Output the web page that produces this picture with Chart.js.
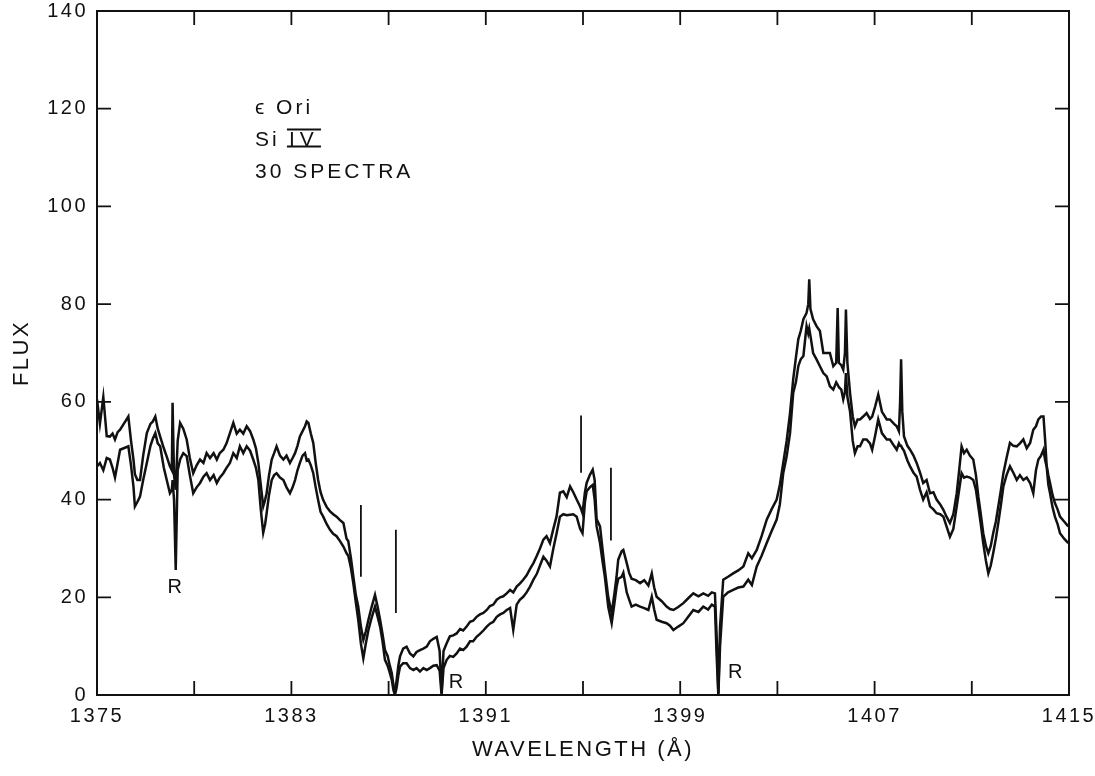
<!DOCTYPE html>
<html>
<head>
<meta charset="utf-8">
<title>eps Ori Si IV spectra</title>
<script src="https://cdn.jsdelivr.net/npm/chart.js@4.4.1/dist/chart.umd.min.js"></script>
<style>
  html, body { margin: 0; padding: 0; background: #fff; }
  #wrap { width: 1095px; height: 776px; }
</style>
</head>
<body>
<div id="wrap"><canvas id="spectrumChart" width="1095" height="776"></canvas></div>
<script>
// Wavelength samples (Angstrom)
const wavelength = [
  1375.00, 1375.12, 1375.26, 1375.40, 1375.53, 1375.64, 1375.74, 1375.85, 1375.95, 1376.10,
  1376.29, 1376.40, 1376.50, 1376.56, 1376.66, 1376.77, 1376.90, 1377.05, 1377.20, 1377.30,
  1377.40, 1377.50, 1377.60, 1377.75, 1377.87, 1378.00, 1378.08, 1378.11, 1378.17, 1378.24,
  1378.32, 1378.42, 1378.55, 1378.69, 1378.82, 1378.96, 1379.10, 1379.24, 1379.38, 1379.51,
  1379.65, 1379.80, 1379.93, 1380.05, 1380.20, 1380.33, 1380.47, 1380.61, 1380.75, 1380.88,
  1381.02, 1381.16, 1381.30, 1381.43, 1381.54, 1381.64, 1381.74, 1381.84, 1381.92, 1381.98,
  1382.08, 1382.19, 1382.29, 1382.39, 1382.53, 1382.67, 1382.80, 1382.94, 1383.05, 1383.15,
  1383.25, 1383.35, 1383.46, 1383.56, 1383.63, 1383.70, 1383.80, 1383.90, 1384.00, 1384.10,
  1384.20, 1384.31, 1384.45, 1384.59, 1384.72, 1384.86, 1385.00, 1385.14, 1385.27, 1385.34,
  1385.45, 1385.55, 1385.65, 1385.75, 1385.86, 1385.96, 1386.06, 1386.17, 1386.30, 1386.44,
  1386.55, 1386.65, 1386.75, 1386.85, 1386.96, 1387.05, 1387.13, 1387.20, 1387.26, 1387.33,
  1387.40, 1387.47, 1387.60, 1387.74, 1387.88, 1388.02, 1388.15, 1388.29, 1388.43, 1388.57,
  1388.70, 1388.84, 1388.98, 1389.10, 1389.18, 1389.26, 1389.39, 1389.52, 1389.66, 1389.80,
  1389.94, 1390.07, 1390.21, 1390.35, 1390.48, 1390.62, 1390.76, 1390.90, 1391.04, 1391.17,
  1391.31, 1391.45, 1391.59, 1391.72, 1391.86, 1392.00, 1392.13, 1392.27, 1392.40, 1392.54,
  1392.68, 1392.82, 1392.96, 1393.10, 1393.23, 1393.37, 1393.50, 1393.64, 1393.78, 1393.91,
  1394.05, 1394.19, 1394.33, 1394.47, 1394.60, 1394.74, 1394.88, 1394.98, 1395.08, 1395.15,
  1395.28, 1395.40, 1395.48, 1395.56, 1395.70, 1395.80, 1395.90, 1396.04, 1396.18, 1396.30,
  1396.38, 1396.45, 1396.59, 1396.66, 1396.80, 1396.90, 1397.00, 1397.17, 1397.35, 1397.52,
  1397.69, 1397.83, 1397.93, 1398.03, 1398.24, 1398.44, 1398.58, 1398.72, 1398.92, 1399.13,
  1399.33, 1399.54, 1399.75, 1399.95, 1400.15, 1400.30, 1400.43, 1400.50, 1400.57, 1400.64,
  1400.77, 1400.97, 1401.18, 1401.39, 1401.60, 1401.80, 1401.95, 1402.15, 1402.35, 1402.56,
  1402.76, 1402.97, 1403.10, 1403.24, 1403.38, 1403.52, 1403.65, 1403.76, 1403.86, 1403.96,
  1404.07, 1404.20, 1404.27, 1404.31, 1404.36, 1404.47, 1404.61, 1404.75, 1404.89, 1405.03,
  1405.16, 1405.30, 1405.42, 1405.48, 1405.53, 1405.63, 1405.71, 1405.78, 1405.82, 1405.88,
  1405.99, 1406.10, 1406.19, 1406.30, 1406.40, 1406.53, 1406.67, 1406.81, 1406.90, 1407.02,
  1407.15, 1407.30, 1407.50, 1407.63, 1407.80, 1407.91, 1408.00, 1408.05, 1408.09, 1408.14,
  1408.21, 1408.35, 1408.46, 1408.60, 1408.73, 1408.87, 1409.00, 1409.14, 1409.28, 1409.42,
  1409.55, 1409.70, 1409.83, 1409.96, 1410.10, 1410.24, 1410.38, 1410.48, 1410.58, 1410.68,
  1410.79, 1410.92, 1411.06, 1411.17, 1411.27, 1411.37, 1411.47, 1411.58, 1411.68, 1411.78,
  1411.88, 1411.99, 1412.09, 1412.20, 1412.30, 1412.43, 1412.57, 1412.71, 1412.85, 1412.98,
  1413.12, 1413.26, 1413.40, 1413.53, 1413.64, 1413.74, 1413.85, 1413.95, 1414.02, 1414.08,
  1414.15, 1414.22, 1414.32, 1414.42, 1414.53, 1414.63, 1414.80, 1414.97,
];

// Upper spectrum trace
const fluxUpper = [
  60.5, 55.5, 61, 53, 52.9, 53.5, 52.3, 53.8, 54.3, 55.5,
  57, 52, 48.2, 45.2, 44, 44, 49, 53.6, 55.5, 56,
  57, 54.5, 52.9, 50.5, 48.8, 46.8, 46, 59.8, 45, 42,
  52, 55.7, 54.5, 52.3, 48.5, 45.4, 47, 48.2, 47.5, 49.5,
  48.5, 49.5, 48.2, 49.5, 50.2, 51.5, 53.6, 55.7, 53.5, 54.3,
  53.5, 55, 54, 52.3, 50.5, 47.5, 43, 38.6, 40, 41.3,
  45, 48.2, 49.5, 50.9, 49, 48.2, 49, 47.5, 48.5, 49.5,
  51, 52.9, 54, 55, 56, 55.7, 53.5, 51.6, 47.5, 44,
  41.5, 39.9, 38.5, 37.6, 37, 36.5, 35.8, 35.2, 32, 31.5,
  28, 24.2, 20.5, 18.1, 14, 11.3, 13, 15.4, 18, 20.5,
  18, 15.4, 12.5, 9.2, 8, 6, 4.5, 2, 0.5, 3,
  6, 7.9, 9.5, 9.9, 8.5, 7.9, 8.8, 9.2, 9.5, 9.9,
  11, 11.5, 11.9, 9, 0.5, 9, 10.6, 12, 12.2, 12.6,
  13.5, 13.2, 14, 15, 15.2, 16, 16.5, 16.8, 17.4, 18.2,
  18.5, 19.5, 20, 20.2, 20.8, 21.5, 21, 22.2, 22.8, 23.6,
  24.5, 25.8, 27, 28.5, 30, 31.8, 32.5, 31.1, 34, 36.5,
  41.4, 41.7, 40.5, 42.7, 41.5, 40, 38.6, 37.2, 41.5, 43.4,
  45, 46.1, 44, 36, 34.5, 30, 25.6, 20, 16.8, 21,
  24.2, 27.7, 29.4, 29.7, 27, 25, 23.8, 23.5, 22.9, 23.5,
  22.4, 24.9, 22, 20.1, 19.2, 18.1, 17.6, 17.4, 18, 18.8,
  19.8, 20.8, 20.2, 20.8, 20.3, 21, 20.8, 12, 0.3, 14,
  23.6, 24.2, 24.9, 25.5, 26.3, 29, 28, 29.7, 32.5, 35.9,
  38, 40, 43, 47.5, 52, 57.7, 64.6, 69, 72.8, 74.5,
  76.9, 78.2, 80, 85.1, 79, 76.9, 75.5, 74.5, 70, 70,
  70, 67.3, 68, 79.2, 68, 67.5, 66.6, 70, 78.9, 68,
  61.8, 57, 55, 56.4, 56.4, 57, 57.7, 56.5, 57, 59,
  61.5, 58, 56.4, 56.4, 55.5, 55, 54, 60, 68.7, 58,
  52.9, 51, 50.2, 49, 47.5, 45.5, 43.4, 44, 41.3, 41.5,
  40, 39, 37.9, 36.5, 35.2, 37, 41.3, 46, 50.9, 49.5,
  50.2, 49, 48.2, 45, 40.6, 37, 33.1, 30.5, 29, 30.5,
  33.1, 35.5, 38.6, 42, 45.4, 48.5, 51.6, 51, 50.9, 51.5,
  52.3, 50.5, 51.6, 54.3, 55, 56.4, 57, 57, 52, 47,
  45, 43.4, 41, 39.3, 38, 36.5, 35.5, 34.5,
];

// Lower spectrum trace
const fluxLower = [
  46.8, 47.5, 46, 48.5, 48.2, 46.5, 44.5, 47.5, 50.2, 50.5,
  50.9, 47, 42.7, 38.6, 39.5, 40.6, 44, 47.5, 51, 52.5,
  53.6, 51.5, 50.9, 46.5, 44, 41.3, 42, 44, 40, 25.6,
  46, 48.2, 49.5, 48.9, 45, 41.3, 42.5, 43.4, 44.7, 45.4,
  44, 45, 43.4, 44.5, 45.4, 46.5, 47.5, 49.5, 48.5, 50.9,
  49.5, 50.9, 50, 48.2, 46.5, 44, 38, 33.2, 35, 37.2,
  41, 44, 45, 45.4, 44.5, 44, 42.5, 41.3, 42.5, 44,
  46, 47.5, 49, 49.5, 48, 48.2, 47, 45.4, 42.5, 39.9,
  37.5, 36.5, 35, 33.8, 33, 32.5, 31.5, 30.4, 29, 28.5,
  26, 22.8, 19, 15.4, 10.5, 7.5, 10.5, 13.3, 15.8, 18.1,
  16, 14, 11, 7.2, 6, 4.5, 3.1, 1, 0, 1.5,
  4, 5.8, 6.5, 6.5, 5.5, 5.1, 5.5, 4.8, 5.5, 5.1,
  5.5, 6, 6.1, 5, 0, 5.5, 7.2, 8, 7.8, 8.5,
  9.5, 9.2, 9.9, 11, 11, 11.9, 12.5, 13.2, 14, 14.6,
  15, 16, 16.5, 16.8, 17.4, 17.8, 13.3, 18.5, 19.5, 20.1,
  21, 22.2, 23.6, 24.8, 26.5, 28.3, 27.5, 26.3, 30, 33,
  36.5, 37, 36.8, 36.9, 37, 36.5, 34, 33.1, 39.5, 41.7,
  42.5, 43, 40, 34.5, 31.1, 27.5, 24.2, 18, 14.7, 19,
  22.1, 23.8, 24.2, 25, 21, 19.5, 18.1, 18.5, 18.1, 17.8,
  17.4, 20.1, 17.5, 15.4, 15, 14.7, 14.2, 13.3, 14, 14.7,
  16, 17.4, 17, 18.1, 17.5, 18.5, 18.1, 8, 0, 10,
  20.1, 21, 21.5, 22, 22.2, 23.6, 22.5, 26.3, 28.5, 31.1,
  33.5, 35.9, 39, 45.4, 48.8, 53.6, 61.8, 64, 67.3, 68.7,
  69.4, 75.5, 74, 75, 73.5, 70, 68.7, 67.3, 65.9, 65.2,
  63.2, 62.5, 64, 63.5, 63, 62.5, 60.5, 62, 65.9, 61,
  58, 52, 49.5, 50.9, 50.9, 52.3, 52.3, 51.5, 50.2, 53,
  56.4, 53.6, 52.3, 52.3, 51, 50.2, 51.5, 51, 51, 50.5,
  50, 48, 46.8, 45.5, 44.7, 42, 40, 41.5, 38.6, 38,
  37.2, 37, 36.5, 34.5, 32.4, 34, 38.6, 42, 45.4, 44.5,
  44.7, 44.5, 44, 42, 38.5, 35, 31.1, 27.5, 24.9, 26.5,
  29, 32, 35.2, 39, 42.7, 45, 46.8, 45.5, 44, 45,
  44, 44.5, 43.4, 41.3, 46, 48.2, 49, 50.2, 48, 46.8,
  43, 41.3, 38.5, 36.5, 35, 33.1, 32, 31.1,
];

// Vertical marker lines
const markerWavelength = [1385.86, 1387.3, 1394.92, 1396.15];
const markerBottom = [24.2, 16.8, 45.5, 31.6];
const markerTop = [38.9, 33.8, 57.2, 46.5];

// "R" labels
const rLabelWavelength = [1378.2, 1389.77, 1401.26];
const rLabelFlux = [22.1, 2.5, 4.7];

// Axis ticks
const xTickValues = [1375, 1379, 1383, 1387, 1391, 1395, 1399, 1403, 1407, 1411, 1415];
const xLabelValues = [1375, 1383, 1391, 1399, 1407, 1415];
const yTickValues = [0, 20, 40, 60, 80, 100, 120, 140];

// Legend text in the upper left
const noteLines = ["ϵ Ori", "Si IV", "30 SPECTRA"];
const noteWavelength = 1381.5;
const noteFlux = [120.5, 114, 107.4];

const INK = "#111";
const FONT = '"Liberation Sans", "DejaVu Sans", Arial, sans-serif';
const TICK = 14;

function toPoints(ys) {
  return wavelength.map((w, i) => ({ x: w, y: ys[i] }));
}

function markerPoints() {
  const pts = [];
  markerWavelength.forEach((w, i) => {
    pts.push({ x: w, y: markerBottom[i] });
    pts.push({ x: w, y: markerTop[i] });
    pts.push({ x: w, y: null });
  });
  return pts;
}

// Frame, inward ticks and annotations
const framePlugin = {
  id: "frame",
  beforeDraw(chart) {
    const ctx = chart.ctx;
    ctx.save();
    ctx.fillStyle = "#fff";
    ctx.fillRect(0, 0, chart.width, chart.height);
    ctx.restore();
    ctx.letterSpacing = "2.5px";
  },
  afterDraw(chart) {
    const { ctx, chartArea: a } = chart;
    const x = chart.scales.x;
    const y = chart.scales.y;
    ctx.save();
    ctx.letterSpacing = "0px";
    ctx.strokeStyle = INK;
    ctx.lineWidth = 2;
    ctx.strokeRect(a.left, a.top, a.right - a.left, a.bottom - a.top);

    ctx.beginPath();
    xTickValues.forEach((v) => {
      const px = x.getPixelForValue(v);
      ctx.moveTo(px, a.bottom);
      ctx.lineTo(px, a.bottom - TICK);
      ctx.moveTo(px, a.top);
      ctx.lineTo(px, a.top + TICK);
    });
    yTickValues.forEach((v) => {
      const py = y.getPixelForValue(v);
      ctx.moveTo(a.left, py);
      ctx.lineTo(a.left + TICK, py);
      ctx.moveTo(a.right, py);
      ctx.lineTo(a.right - TICK, py);
    });
    ctx.lineWidth = 1.8;
    ctx.stroke();

    // R labels
    ctx.fillStyle = INK;
    ctx.font = `20px ${FONT}`;
    ctx.textAlign = "center";
    ctx.textBaseline = "middle";
    rLabelWavelength.forEach((w, i) => {
      ctx.fillText("R", x.getPixelForValue(w), y.getPixelForValue(rLabelFlux[i]));
    });

    // note block
    ctx.font = `21px ${FONT}`;
    ctx.textAlign = "left";
    ctx.textBaseline = "alphabetic";
    ctx.letterSpacing = "3px";
    const nx = x.getPixelForValue(noteWavelength);
    const capH = 15;
    noteLines.forEach((line, i) => {
      const base = y.getPixelForValue(noteFlux[i]) + capH / 2;
      if (line.startsWith("Si ")) {
        ctx.fillText("Si", nx, base);
        const rx = nx + 32;
        ctx.letterSpacing = "5px";
        ctx.fillText("IV", rx + 2, base);
        ctx.letterSpacing = "3px";
        ctx.beginPath();
        ctx.lineWidth = 2;
        ctx.moveTo(rx, base - capH - 1);
        ctx.lineTo(rx + 34, base - capH - 1);
        ctx.moveTo(rx, base + 1);
        ctx.lineTo(rx + 34, base + 1);
        ctx.stroke();
      } else {
        ctx.fillText(line, nx, base);
      }
    });
    ctx.restore();
  },
  afterRender(chart) {
    chart.ctx.letterSpacing = "0px";
  },
};

const ctx = document.getElementById("spectrumChart").getContext("2d");
new Chart(ctx, {
  type: "scatter",
  data: {
    datasets: [
      {
        label: "upper",
        data: toPoints(fluxUpper),
        showLine: true,
        borderColor: INK,
        borderWidth: 2.5,
        borderJoinStyle: "miter",
        pointRadius: 0,
        tension: 0,
      },
      {
        label: "lower",
        data: toPoints(fluxLower),
        showLine: true,
        borderColor: INK,
        borderWidth: 2.5,
        borderJoinStyle: "miter",
        pointRadius: 0,
        tension: 0,
      },
      {
        label: "markers",
        data: markerPoints(),
        showLine: true,
        spanGaps: false,
        borderColor: INK,
        borderWidth: 1.8,
        pointRadius: 0,
      },
    ],
  },
  options: {
    responsive: false,
    animation: false,
    devicePixelRatio: 1,
    layout: {
      autoPadding: false,
      padding: { top: 11, right: 26, left: 0, bottom: 0 },
    },
    plugins: {
      legend: { display: false },
      tooltip: { enabled: false },
    },
    scales: {
      x: {
        type: "linear",
        position: "bottom",
        min: 1375,
        max: 1415,
        afterBuildTicks: (s) => {
          s.ticks = xTickValues.map((v) => ({ value: v }));
        },
        afterFit: (s) => {
          s.height = 81;
          s.paddingLeft = 0;
          s.paddingRight = 0;
        },
        ticks: {
          autoSkip: false,
          maxRotation: 0,
          padding: 9,
          color: INK,
          font: { family: FONT, size: 20 },
          callback: (v) => (xLabelValues.includes(v) ? String(v) : ""),
        },
        grid: { display: false, drawTicks: false },
        border: { display: false },
        title: {
          display: true,
          text: "WAVELENGTH (Å)",
          color: INK,
          font: { family: FONT, size: 22 },
          padding: { top: 0, bottom: 13 },
        },
      },
      y: {
        type: "linear",
        position: "left",
        min: 0,
        max: 140,
        afterBuildTicks: (s) => {
          s.ticks = yTickValues.map((v) => ({ value: v }));
        },
        afterFit: (s) => {
          s.width = 97;
          s.paddingTop = 0;
          s.paddingBottom = 0;
        },
        ticks: {
          padding: 9,
          color: INK,
          font: { family: FONT, size: 20 },
        },
        grid: { display: false, drawTicks: false },
        border: { display: false },
        title: {
          display: true,
          text: "FLUX",
          color: INK,
          font: { family: FONT, size: 22 },
          padding: { top: 9, bottom: 0 },
        },
      },
    },
  },
  plugins: [framePlugin],
});
</script>
</body>
</html>
